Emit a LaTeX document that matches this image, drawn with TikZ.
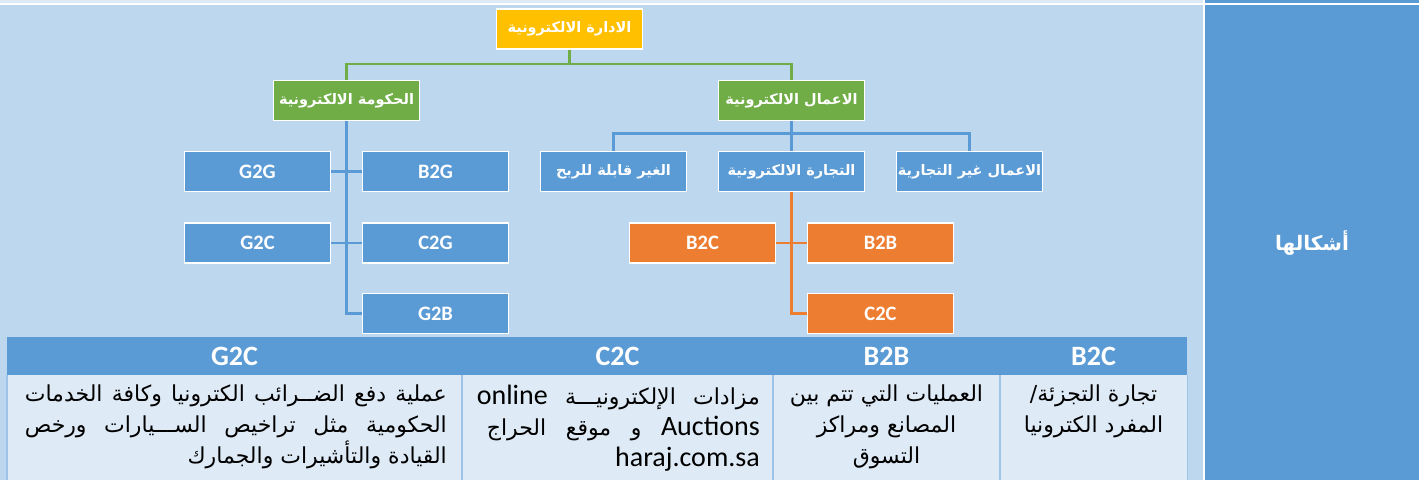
\documentclass[tikz,border=0pt]{standalone}
\usepackage{fontspec}
\usepackage{tikz}
\setmainfont{Carlito}
\newfontfamily\arabicfont[Script=Arabic]{DejaVu Sans}
\newfontfamily\latinfont{Carlito}
\TeXXeTstate=1
\definecolor{EMGblue}{HTML}{5B9BD5}
\definecolor{EMGsky}{HTML}{BDD7EE}
\definecolor{EMGpale}{HTML}{DEEAF6}
\definecolor{EMGrule}{HTML}{9DC3E6}
\definecolor{EMGgold}{HTML}{FFC000}
\definecolor{EMGgreen}{HTML}{70AD47}
\definecolor{EMGorange}{HTML}{ED7D31}
\newcommand{\fullline}[2]{\makebox[#1][s]{#2}}
\newcommand{\ltr}[1]{{\latinfont\fontsize{28}{31}\selectfont\beginL #1\endL}}

\tikzset{
    chartbox/.style={draw=white, line width=1.6pt, minimum width=146pt, minimum height=40pt, inner sep=0pt, text=white},
    arlabel/.style={font={\arabicfont\bfseries\fontsize{14.5}{17}\selectfont}},
    latlabel/.style={font={\latinfont\bfseries\fontsize{20.5}{23}\selectfont}},
    goldbox/.style={chartbox, fill=EMGgold, arlabel},
    greenbox/.style={chartbox, fill=EMGgreen, arlabel},
    bluebox/.style={chartbox, fill=EMGblue},
    orangebox/.style={chartbox, fill=EMGorange, latlabel},
    greenlink/.style={draw=EMGgreen, line width=2.4pt},
    bluelink/.style={draw=EMGblue, line width=2.4pt},
    orangelink/.style={draw=EMGorange, line width=2.4pt},
    headcell/.style={fill=EMGblue, minimum height=38pt, inner sep=0pt, text=white, font={\latinfont\bfseries\fontsize{28}{30}\selectfont}},
    bodycell/.style={fill=EMGpale, minimum height=105pt, inner sep=0pt, anchor=north west},
    bodytext/.style={inner sep=0pt, font={\arabicfont\fontsize{22}{31}\selectfont}}
}

\begin{document}
\begin{tikzpicture}[x=1pt, y=-1pt]
    \useasboundingbox (0,0) rectangle (1426,480);
    \fill[white] (0,0) rectangle (1426,480);
    \fill[EMGpale] (0,0) rectangle (1203,3);
    \fill[EMGblue] (1205,0) rectangle (1419,3);
    \fill[EMGsky] (0,5) rectangle (1203,480);
    \fill[EMGblue] (1205,5) rectangle (1419,480);

    \node[text=white, font={\arabicfont\bfseries\fontsize{20}{22}\selectfont}] (forms) at (1312,243) {\beginR أشكالها\endR};

    % chart
    \node[goldbox] (emgt) at (569.5,29) {\beginR الادارة الالكترونية\endR};
    \node[greenbox] (egov) at (346.5,100.5) {\beginR الحكومة الالكترونية\endR};
    \node[greenbox] (ebus) at (791.5,100.5) {\beginR الاعمال الالكترونية\endR};

    \node[bluebox, latlabel] (g2g) at (257.5,171.5) {G2G};
    \node[bluebox, latlabel] (b2g) at (435.5,171.5) {B2G};
    \node[bluebox, latlabel] (g2c) at (257.5,243) {G2C};
    \node[bluebox, latlabel] (c2g) at (435.5,243) {C2G};
    \node[bluebox, latlabel] (g2b) at (435.5,313.5) {G2B};

    \node[bluebox, arlabel] (nonprofit) at (613.5,171.5) {\beginR الغير قابلة للربح\endR};
    \node[bluebox, arlabel] (ecom) at (791.5,171.5) {\beginR التجارة الالكترونية\endR};
    \node[bluebox, arlabel] (nonbiz) at (969.5,171.5) {\beginR الاعمال غير التجارية\endR};

    \node[orangebox] (b2c) at (702.5,243) {B2C};
    \node[orangebox] (b2b) at (880.5,243) {B2B};
    \node[orangebox] (c2c) at (880.5,313.5) {C2C};

    \draw[greenlink] (emgt.south) -- ++(0,14) -| (egov.north);
    \draw[greenlink] (emgt.south) -- ++(0,14) -| (ebus.north);
    \draw[bluelink] (egov.south) |- (g2b.west);
    \draw[bluelink] (g2g.east) -- (b2g.west);
    \draw[bluelink] (g2c.east) -- (c2g.west);
    \draw[bluelink] (ebus.south) -- ++(0,12) -| (nonprofit.north);
    \draw[bluelink] (ebus.south) -- (ecom.north);
    \draw[bluelink] (ebus.south) -- ++(0,12) -| (nonbiz.north);
    \draw[orangelink] (ecom.south) |- (c2c.west);
    \draw[orangelink] (b2c.east) -- (b2b.west);

    % table
    \node[headcell, minimum width=455pt] (hg2c) at (234.5,356) {G2C};
    \node[headcell, minimum width=311pt] (hc2c) at (617.5,356) {C2C};
    \node[headcell, minimum width=227pt] (hb2b) at (886.5,356) {B2B};
    \node[headcell, minimum width=187pt] (hb2c) at (1093.5,356) {B2C};
    \node[bodycell, minimum width=455pt] (cg2c) at (7,375) {};
    \node[bodycell, minimum width=311pt] (cc2c) at (462,375) {};
    \node[bodycell, minimum width=227pt] (cb2b) at (773,375) {};
    \node[bodycell, minimum width=187pt] (cb2c) at (1000,375) {};
    \draw[EMGrule, line width=1.5pt] (cg2c.north west) -- (cg2c.south west);
    \draw[EMGrule, line width=1.5pt] (cc2c.north west) -- (cc2c.south west);
    \draw[EMGrule, line width=1.5pt] (cb2b.north west) -- (cb2b.south west);
    \draw[EMGrule, line width=1.5pt] (cb2c.north west) -- (cb2c.south west);
    \draw[EMGrule, line width=1.5pt] (cb2c.north east) -- (cb2c.south east);

    \node[bodytext, align=right, anchor=north east] (tg2c) at (447,385) {%
        \fullline{422pt}{\beginR عملية دفع الضــرائب الكترونيا وكافة الخدمات\endR}\\
        \fullline{422pt}{\beginR الحكومية مثل تراخيص الســـيارات ورخص\endR}\\
        \beginR القيادة والتأشيرات والجمارك\endR};
    \node[bodytext, align=right, anchor=north east] (tc2c) at (760,385) {%
        \fullline{283pt}{\beginR مزادات الإلكترونيـــة \ltr{online}\endR}\\
        \fullline{273pt}{\beginR\ltr{Auctions} و موقع الحراج\endR}\hspace*{10pt}\\
        \ltr{haraj.com.sa}};
    \node[bodytext, align=center, anchor=north] (tb2b) at (886.5,385) {%
        \beginR العمليات التي تتم بين\endR\\
        \beginR المصانع ومراكز\endR\\
        \beginR التسوق\endR};
    \node[bodytext, align=center, anchor=north] (tb2c) at (1093.5,385) {%
        \beginR تجارة التجزئة/\endR\\
        \beginR المفرد الكترونيا\endR};
\end{tikzpicture}
\end{document}
